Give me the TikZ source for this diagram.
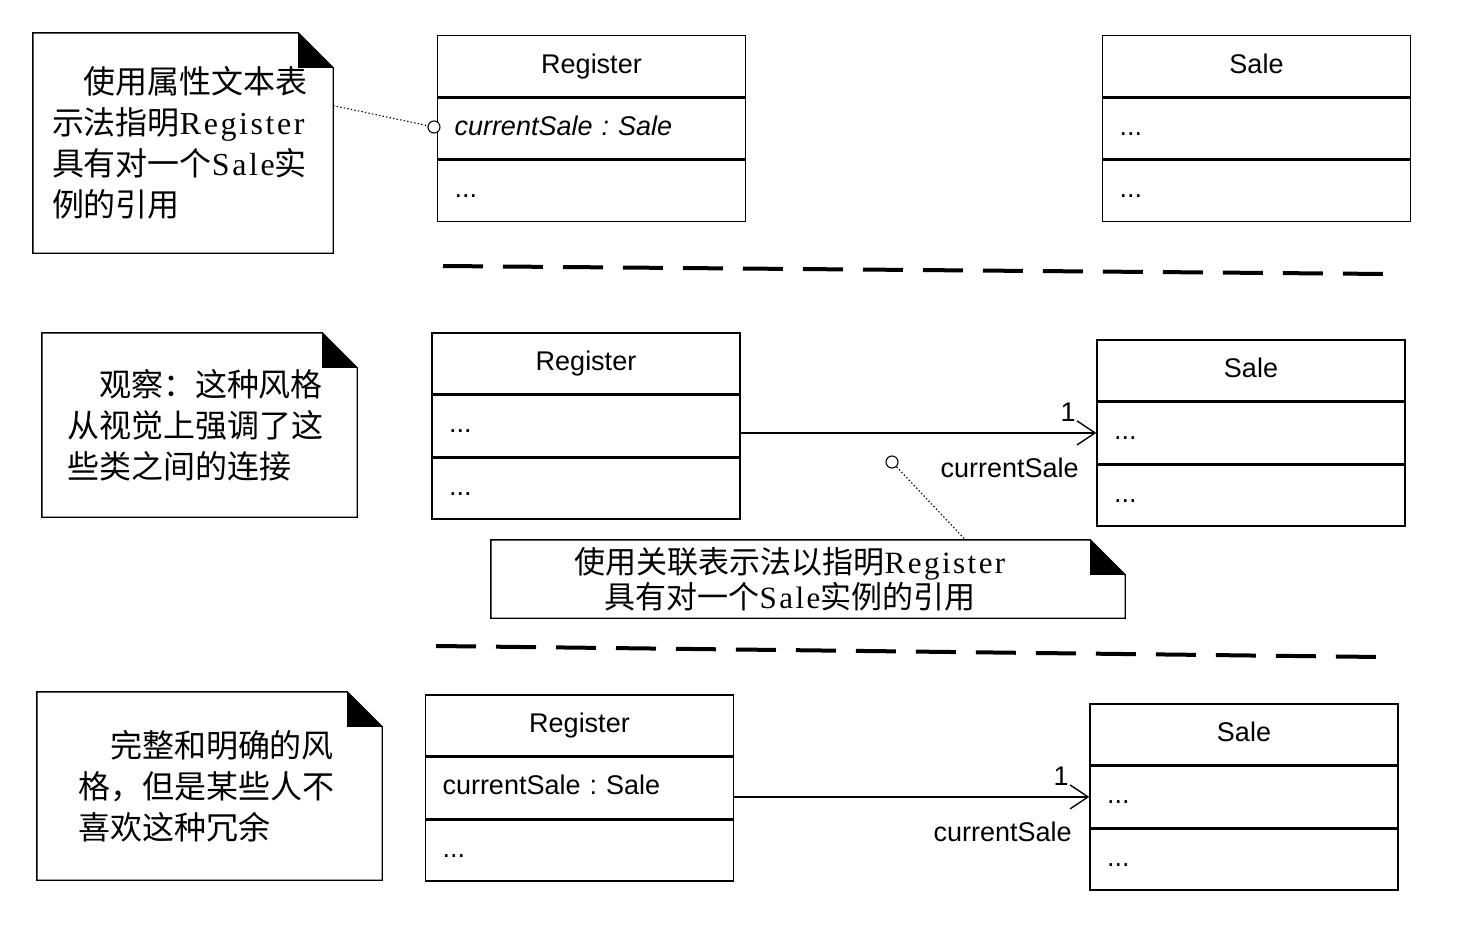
\documentclass[tikz,border=0pt]{standalone}
\usepackage{fontspec}
\setmainfont{Liberation Serif}
\setsansfont{Liberation Sans}
\newfontfamily\cjk{Noto Sans CJK SC}
\newfontfamily\notelatin[LetterSpace=8]{Liberation Serif}
\usetikzlibrary{positioning, arrows.meta}

\newcommand\en[1]{{\notelatin #1}}
% outline of a note with its folded corner
\newcommand\DogEar[2][35]{%
  \draw[NoteLine] (#2.north west) -- ([xshift=-#1pt]#2.north east)
    -- ([yshift=-#1pt]#2.north east) -- (#2.south east) -- (#2.south west) -- cycle;
  \fill ([xshift=-#1pt]#2.north east) -- ([xshift=-#1pt,yshift=-#1pt]#2.north east)
    -- ([yshift=-#1pt]#2.north east) -- cycle;}

\begin{document}
\begin{tikzpicture}[x=1pt, y=-1pt,
  ClassStyle/.style={draw, line width=1.4pt, minimum height=61pt, text width=274pt,
    text height=20pt, text depth=6pt, inner xsep=17pt, inner ysep=0pt, align=left,
    font=\sffamily\fontsize{27}{32}\selectfont\frenchspacing},
  NameStyle/.style={ClassStyle, align=center},
  NoteStyle/.style={inner ysep=0pt, align=left, font=\cjk\fontsize{32}{41}\selectfont},
  NoteLine/.style={line width=1.4pt, line join=miter},
  LinkStyle/.style={line width=1.1pt, dash pattern=on 1.4pt off 2.2pt},
  KnobStyle/.style={circle, draw, fill=white, line width=1.1pt, inner sep=0pt, minimum size=12pt},
  AssocStyle/.style={line width=1.4pt, -{Straight Barb[length=18pt, width=24pt]}},
  EndLabel/.style={inner sep=0pt, font=\sffamily\fontsize{27}{32}\selectfont},
  MultStyle/.style={EndLabel, at end, anchor=south east, xshift=-20pt, yshift=11pt},
  RoleStyle/.style={EndLabel, at end, anchor=north east, xshift=-17pt, yshift=-24pt},
  SepStyle/.style={line width=4pt, dash pattern=on 40pt off 20pt}]
  \useasboundingbox (0,0) rectangle (1476,926);

  % attribute text style
  \node[NoteStyle, text width=262pt, inner xsep=19pt, minimum height=220pt] (note1) at (183,143)
    {\hspace*{1em}使用属性文本表\\示法指明\en{Register}\\具有对一个\en{Sale}实\\例的引用};
  \DogEar{note1}
  \node[NameStyle] (reg1) at (591.5,66) {Register};
  \node[ClassStyle, below=0pt of reg1] (reg1a) {\textit{currentSale : Sale}};
  \node[ClassStyle, below=0pt of reg1a] (reg1o) {...};
  \node[NameStyle] (sale1) at (1256.5,66) {Sale};
  \node[ClassStyle, below=0pt of sale1] (sale1a) {...};
  \node[ClassStyle, below=0pt of sale1a] (sale1o) {...};
  \node[KnobStyle] (knob1) at (434,127) {};
  \draw[LinkStyle] (note1.14) -- (knob1);

  \coordinate (sep1a) at (443,266);
  \coordinate (sep1b) at (1388,274);
  \draw[SepStyle] (sep1a) -- (sep1b);

  % association style
  \node[NoteStyle, text width=265pt, inner xsep=25pt, minimum height=184pt] (note2) at (199.5,425)
    {\hspace*{1em}观察：这种风格\\从视觉上强调了这\\些类之间的连接};
  \DogEar{note2}
  \node[NameStyle] (reg2) at (586,363.5) {Register};
  \node[ClassStyle, below=0pt of reg2] (reg2a) {...};
  \node[ClassStyle, below=0pt of reg2a] (reg2o) {...};
  \node[NameStyle] (sale2) at (1251,370.5) {Sale};
  \node[ClassStyle, below=0pt of sale2] (sale2a) {...};
  \node[ClassStyle, below=0pt of sale2a] (sale2o) {...};
  \draw[AssocStyle] (sale2a.west -| reg2a.east) -- (sale2a.west)
    node[MultStyle] {1} node[RoleStyle] {currentSale};
  \node[NoteStyle, align=center, text width=594pt, inner xsep=20pt, minimum height=78pt,
    font=\cjk\fontsize{31}{35}\selectfont] (note3) at (808,579)
    {\hspace*{-36pt}使用关联表示法以指明\en{Register}\\\hspace*{-36pt}具有对一个\en{Sale}实例的引用};
  \DogEar{note3}
  \node[KnobStyle] (knob2) at (892,462) {};
  \draw[LinkStyle] (knob2) -- (note3.14);

  \coordinate (sep2a) at (436,646);
  \coordinate (sep2b) at (1380,657);
  \draw[SepStyle] (sep2a) -- (sep2b);

  % both together
  \node[NoteStyle, text width=263pt, inner xsep=41pt, minimum height=188pt] (note4) at (209.5,786)
    {\hspace*{1em}完整和明确的风\\格，但是某些人不\\喜欢这种冗余};
  \DogEar{note4}
  \node[NameStyle] (reg3) at (579.5,725.5) {Register};
  \node[ClassStyle, below=0pt of reg3] (reg3a) {currentSale : Sale};
  \node[ClassStyle, below=0pt of reg3a] (reg3o) {...};
  \node[NameStyle] (sale3) at (1244,734.5) {Sale};
  \node[ClassStyle, below=0pt of sale3] (sale3a) {...};
  \node[ClassStyle, below=0pt of sale3a] (sale3o) {...};
  \draw[AssocStyle] (sale3a.west -| reg3a.east) -- (sale3a.west)
    node[MultStyle] {1} node[RoleStyle] {currentSale};
\end{tikzpicture}
\end{document}
